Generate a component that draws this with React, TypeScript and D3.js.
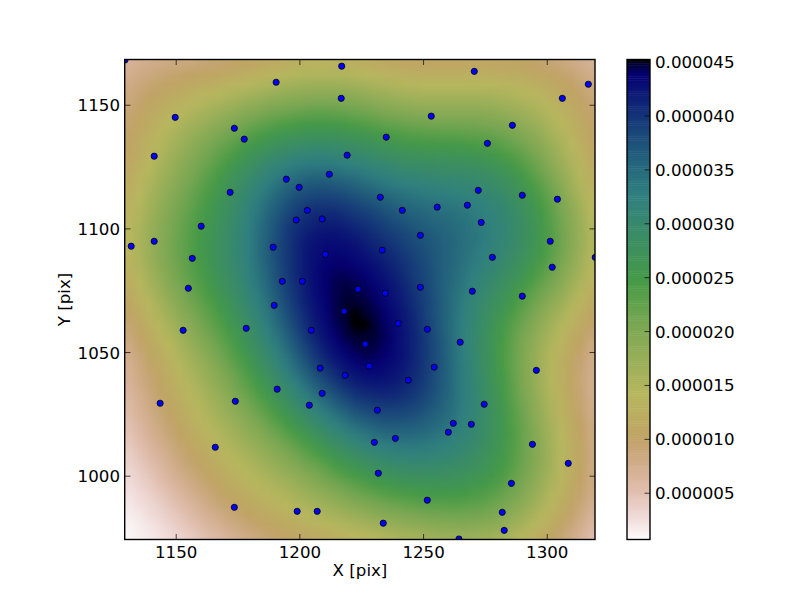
import React, { useMemo } from "react";
import * as d3 from "d3";

const W = 800, H = 600;
const AX = { left: 125, right: 595, top: 59.5, bottom: 539.5 };
const CB = { left: 627, right: 650 };

const xDomain = [1129.3, 1319.3];
const yDomain = [974.4, 1168.5];
const xTicks = [1150, 1200, 1250, 1300];
const yTicks = [1000, 1050, 1100, 1150];
const cbDomain = [0.71e-6, 4.524e-5];
const cbTicks = [0.000005, 0.00001, 0.000015, 0.00002, 0.000025, 0.00003, 0.000035, 0.00004, 0.000045];
const cbLabels = ["0.000005", "0.000010", "0.000015", "0.000020", "0.000025", "0.000030", "0.000035", "0.000040", "0.000045"];

const pointsX = [1129.3,1216.9,1190.4,1216.7,1149.6,1173.5,1177.5,1141.1,1219.1,1211.9,1194.5,1199.7,1171.8,1203,1198.5,1209,1270.5,1316.6,1306.1,1253.1,1285.9,1234.9,1275.8,1232.5,1272.1,1289.9,1304.1,1241.4,1255.5,1267.7,1273.3,1160.1,1131.8,1141.1,1156.5,1154.9,1189.2,1210.3,1192.9,1201,1223.5,1189.6,1217.9,1152.8,1178.3,1204.6,1208.2,1218.3,1190.8,1248.7,1301.2,1233.3,1277.8,1319.4,1302,1234.5,1248.7,1269.7,1289.9,1239.8,1251.5,1264.8,1226.4,1228,1254.3,1243.8,1295.6,1209,1203.8,1143.5,1173.9,1165.8,1173.5,1198.9,1207,1231.3,1274.5,1262,1269.3,1260,1230.1,1238.6,1294,1308.5,1231.7,1285.5,1251.5,1281.8,1233.7,1282.6,1264.3];
const pointsY = [1168.3,1165.8,1159.3,1152.8,1145.1,1140.7,1136.3,1129.4,1129.8,1122.1,1120.1,1116.8,1114.8,1107.5,1103.6,1104,1163.7,1158.5,1152.8,1145.6,1141.9,1137.1,1134.6,1112.8,1115.6,1113.6,1112,1107.5,1108.8,1109.6,1102.6,1101.1,1093,1095,1088.1,1076,1092.6,1089.7,1078.8,1078.8,1075.6,1069.1,1066.7,1059,1059.8,1059,1043.7,1040.8,1035.2,1097.4,1095,1091.4,1088.5,1088.5,1084.5,1074,1076.4,1074.8,1072.8,1061.8,1059.4,1054.2,1053.4,1044.5,1044.1,1038.8,1042.8,1033.5,1028.7,1029.5,1030.3,1011.7,987.4,985.8,985.8,1026.7,1029.1,1021.4,1021,1017.8,1013.7,1015.3,1012.9,1005.2,1001.2,997.1,990.3,985.4,981,978.1,974.6];

// matplotlib gist_earth channel stops (reversed when sampled)
const redStops: [number, number][] = [[0,0],[0.2824,0.1882],[0.4588,0.2714],[0.549,0.4719],[0.698,0.7176],[0.7882,0.7553],[1,0.9922]];
const greenStops: [number, number][] = [[0,0],[0.0275,0],[0.1098,0.1893],[0.1647,0.3035],[0.2078,0.3841],[0.2824,0.502],[0.5216,0.6397],[0.698,0.7171],[0.7882,0.6392],[0.7922,0.6413],[0.8,0.6447],[0.8078,0.6481],[0.8157,0.6549],[0.8667,0.6991],[0.8745,0.7103],[0.8824,0.7216],[0.8902,0.7323],[0.898,0.743],[0.9412,0.8275],[0.9569,0.8635],[0.9647,0.8816],[0.9961,0.9733],[1,0.9843]];
const blueStops: [number, number][] = [[0,0],[0.0039,0.1684],[0.0078,0.2212],[0.0275,0.4329],[0.0314,0.4549],[0.2824,0.5004],[0.4667,0.2748],[0.5451,0.3205],[0.7843,0.3961],[0.8941,0.6651],[1,0.9843]];

const channel = (s: [number, number][]) => d3.scaleLinear().domain(s.map(d => d[0])).range(s.map(d => d[1])).clamp(true);
const rC = channel(redStops), gC = channel(greenStops), bC = channel(blueStops);
const LEVELS = 256;
const lut: [number, number, number][] = d3.range(LEVELS).map(i => {
  const t = 1 - i / (LEVELS - 1);
  return [Math.round(rC(t) * 255), Math.round(gC(t) * 255), Math.round(bC(t) * 255)];
});

const x = d3.scaleLinear().domain(xDomain).range([AX.left, AX.right]);
const y = d3.scaleLinear().domain(yDomain).range([AX.bottom, AX.top]);
const cb = d3.scaleLinear().domain(cbDomain).range([AX.bottom, AX.top]);

// The field is the 2-D Gaussian KDE (Scott bandwidth) of the points,
// evaluated on a coarse grid and smoothed by the browser's image scaling, as imshow does.
const GRID = 48;
function densityImage(): string {
  const n = pointsX.length;
  const mx = d3.mean(pointsX)!, my = d3.mean(pointsY)!;
  let sxx = 0, syy = 0, sxy = 0;
  for (let i = 0; i < n; i++) {
    const a = pointsX[i] - mx, b = pointsY[i] - my;
    sxx += a * a; syy += b * b; sxy += a * b;
  }
  sxx /= n - 1; syy /= n - 1; sxy /= n - 1;
  const f2 = Math.pow(n, -1 / 3);
  const cxx = sxx * f2, cyy = syy * f2, cxy = sxy * f2;
  const det = cxx * cyy - cxy * cxy;
  const norm = 1 / (2 * Math.PI * Math.sqrt(det) * n);
  const canvas = document.createElement("canvas");
  canvas.width = GRID; canvas.height = GRID;
  const ctx = canvas.getContext("2d")!;
  const img = ctx.createImageData(GRID, GRID);
  for (let j = 0; j < GRID; j++) {
    const vy = yDomain[1] - ((j + 0.5) / GRID) * (yDomain[1] - yDomain[0]);
    for (let i = 0; i < GRID; i++) {
      const vx = xDomain[0] + ((i + 0.5) / GRID) * (xDomain[1] - xDomain[0]);
      let s = 0;
      for (let k = 0; k < n; k++) {
        const a = vx - pointsX[k], b = vy - pointsY[k];
        s += Math.exp(-0.5 * (cyy * a * a - 2 * cxy * a * b + cxx * b * b) / det);
      }
      const t = (s * norm - cbDomain[0]) / (cbDomain[1] - cbDomain[0]);
      const c = lut[Math.max(0, Math.min(LEVELS - 1, Math.round(t * (LEVELS - 1))))];
      const o = (j * GRID + i) * 4;
      img.data[o] = c[0]; img.data[o + 1] = c[1]; img.data[o + 2] = c[2]; img.data[o + 3] = 255;
    }
  }
  ctx.putImageData(img, 0, 0);
  return canvas.toDataURL();
}

const FONT = "'DejaVu Sans'";
const FS = 16.67;
const TICK = 5.5;
const TW = 0.7;

export default function App() {
  const href = useMemo(densityImage, []);
  const cbH = (AX.bottom - AX.top) / LEVELS;
  return (
    <svg width={W} height={H} viewBox={`0 0 ${W} ${H}`} style={{ position: "absolute", left: 0, top: 0, background: "#fff" }} fontFamily={FONT} fontSize={FS} fill="#000">
      <defs>
        <clipPath id="axclip"><rect x={AX.left} y={AX.top} width={AX.right - AX.left} height={AX.bottom - AX.top} /></clipPath>
      </defs>
      <image href={href} x={AX.left} y={AX.top} width={AX.right - AX.left} height={AX.bottom - AX.top} preserveAspectRatio="none" style={{ imageRendering: "auto" }} />
      <g clipPath="url(#axclip)">
        {pointsX.map((v, i) => (
          <circle key={i} cx={x(v)} cy={y(pointsY[i])} r={3.1} fill="#0000ff" stroke="#000" strokeWidth={0.8} />
        ))}
      </g>
      <rect x={AX.left - 0.3} y={AX.top} width={AX.right - AX.left + 0.3} height={AX.bottom - AX.top} fill="none" stroke="#000" strokeWidth={1.39} />
      {xTicks.map(t => (
        <g key={t}>
          <line x1={x(t)} x2={x(t)} y1={AX.bottom} y2={AX.bottom - TICK} stroke="#000" strokeWidth={TW} />
          <line x1={x(t)} x2={x(t)} y1={AX.top} y2={AX.top + TICK} stroke="#000" strokeWidth={TW} />
          <text x={x(t)} y={557.5} textAnchor="middle">{t}</text>
        </g>
      ))}
      {yTicks.map(t => (
        <g key={t}>
          <line x1={AX.left} x2={AX.left + TICK} y1={y(t)} y2={y(t)} stroke="#000" strokeWidth={TW} />
          <line x1={AX.right} x2={AX.right - TICK} y1={y(t)} y2={y(t)} stroke="#000" strokeWidth={TW} />
          <text x={120} y={y(t) + 6} textAnchor="end">{t}</text>
        </g>
      ))}
      <text x={360} y={576} textAnchor="middle">X [pix]</text>
      <text transform="translate(70,299.5) rotate(-90)" textAnchor="middle">Y [pix]</text>
      {lut.map((c, i) => (
        <rect key={i} x={CB.left} y={AX.bottom - (i + 1) * cbH} width={CB.right - CB.left} height={cbH + 0.5} fill={`rgb(${c[0]},${c[1]},${c[2]})`} />
      ))}
      <rect x={CB.left} y={AX.top} width={CB.right - CB.left} height={AX.bottom - AX.top} fill="none" stroke="#000" strokeWidth={1.39} />
      {cbTicks.map((t, i) => (
        <g key={t}>
          <line x1={CB.right} x2={CB.right - TICK} y1={cb(t)} y2={cb(t)} stroke="#000" strokeWidth={TW} />
          <text x={655} y={cb(t) + 6} textAnchor="start">{cbLabels[i]}</text>
        </g>
      ))}
    </svg>
  );
}
